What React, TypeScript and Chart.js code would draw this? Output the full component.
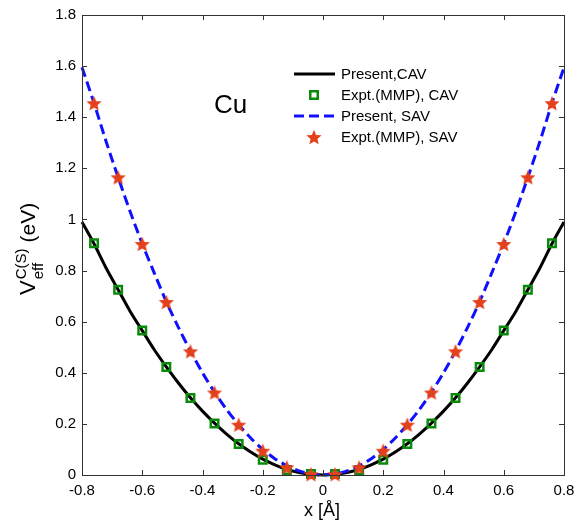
import React, { useEffect, useRef } from 'react';
import { Chart, registerables } from 'chart.js';
Chart.register(...registerables);

const xLine = [-0.8, -0.76, -0.72, -0.68, -0.64, -0.6, -0.56, -0.52, -0.48, -0.44, -0.4, -0.36, -0.32, -0.28, -0.24, -0.2, -0.16, -0.12, -0.08, -0.04, 0,
  0.04, 0.08, 0.12, 0.16, 0.2, 0.24, 0.28, 0.32, 0.36, 0.4, 0.44, 0.48, 0.52, 0.56, 0.6, 0.64, 0.68, 0.72, 0.76, 0.8];
const cavLine = [0.99, 0.905, 0.81, 0.725, 0.64, 0.565, 0.49, 0.423, 0.36, 0.302, 0.25, 0.203, 0.16, 0.122, 0.09, 0.062, 0.04, 0.022, 0.01, 0.003, 0,
  0.003, 0.01, 0.022, 0.04, 0.062, 0.09, 0.122, 0.16, 0.203, 0.25, 0.302, 0.36, 0.423, 0.49, 0.565, 0.64, 0.725, 0.81, 0.905, 0.99];
const savLine = [1.595, 1.455, 1.305, 1.165, 1.03, 0.905, 0.79, 0.678, 0.578, 0.485, 0.4, 0.324, 0.256, 0.197, 0.145, 0.1, 0.064, 0.036, 0.016, 0.004, 0,
  0.004, 0.016, 0.036, 0.064, 0.1, 0.145, 0.197, 0.256, 0.324, 0.4, 0.485, 0.578, 0.678, 0.79, 0.905, 1.03, 1.165, 1.305, 1.455, 1.595];
const xExpt = [-0.76, -0.68, -0.6, -0.52, -0.44, -0.36, -0.28, -0.2, -0.12, -0.04, 0.04, 0.12, 0.2, 0.28, 0.36, 0.44, 0.52, 0.6, 0.68, 0.76];
const cavExpt = [0.907, 0.725, 0.565, 0.423, 0.301, 0.202, 0.121, 0.06, 0.02, 0.004, 0.004, 0.02, 0.06, 0.121, 0.202, 0.301, 0.423, 0.565, 0.725, 0.907];
const savExpt = [1.455, 1.165, 0.904, 0.677, 0.484, 0.323, 0.197, 0.095, 0.03, 0.003, 0.003, 0.03, 0.095, 0.197, 0.323, 0.484, 0.677, 0.904, 1.165, 1.455];
const xTicks = [-0.8, -0.6, -0.4, -0.2, 0, 0.2, 0.4, 0.6, 0.8];
const yTicks = [0, 0.2, 0.4, 0.6, 0.8, 1, 1.2, 1.4, 1.6, 1.8];
const legendLabels = ['Present,CAV', 'Expt.(MMP), CAV', 'Present, SAV', 'Expt.(MMP), SAV'];
const annotationText = 'Cu';

const FONT = 'Arial, "Liberation Sans", sans-serif';
const GREEN = '#0a8a0a';
const RED = '#e4401b';
const BLUE = '#1010ff';

function makeStar(r: number, color: string) {
  const size = Math.ceil(r * 2 + 2);
  const c = document.createElement('canvas');
  c.width = size; c.height = size;
  const ctx = c.getContext('2d')!;
  ctx.translate(size / 2, size / 2 + 0.8);
  ctx.beginPath();
  for (let i = 0; i < 10; i++) {
    const rad = i % 2 === 0 ? r : r * 0.45;
    const a = -Math.PI / 2 + (i * Math.PI) / 5;
    ctx.lineTo(rad * Math.cos(a), rad * Math.sin(a));
  }
  ctx.closePath();
  ctx.fillStyle = color;
  ctx.fill();
  return c;
}

const fmt = (v: number) => String(Math.round(v * 10) / 10);

export default function App() {
  const ref = useRef<HTMLCanvasElement>(null);
  useEffect(() => {
    const star = makeStar(8, RED);
    const decor = {
      id: 'decor',
      afterDraw(chart: any) {
        const { ctx, chartArea: a, scales } = chart;
        const xs = scales.x, ys = scales.y;
        ctx.save();
        // box
        ctx.strokeStyle = '#333';
        ctx.lineWidth = 1;
        ctx.strokeRect(Math.round(a.left) + 0.5, Math.round(a.top) + 0.5, Math.round(a.right - a.left), Math.round(a.bottom - a.top));
        ctx.beginPath();
        for (const v of xTicks) {
          const px = Math.round(xs.getPixelForValue(v)) + 0.5;
          ctx.moveTo(px, a.bottom); ctx.lineTo(px, a.bottom - 5);
          ctx.moveTo(px, a.top); ctx.lineTo(px, a.top + 5);
        }
        for (const v of yTicks) {
          const py = Math.round(ys.getPixelForValue(v)) + 0.5;
          ctx.moveTo(a.left, py); ctx.lineTo(a.left + 5, py);
          ctx.moveTo(a.right, py); ctx.lineTo(a.right - 5, py);
        }
        ctx.stroke();

        // legend
        const rows = [74, 95, 116, 137];
        ctx.font = `15px ${FONT}`;
        ctx.fillStyle = '#000';
        ctx.textBaseline = 'middle';
        ctx.textAlign = 'left';
        legendLabels.forEach((t, i) => ctx.fillText(t, 341, rows[i] + 1));
        ctx.lineWidth = 3;
        ctx.strokeStyle = '#000';
        ctx.beginPath(); ctx.moveTo(294, rows[0]); ctx.lineTo(335, rows[0]); ctx.stroke();
        ctx.strokeStyle = BLUE;
        ctx.setLineDash([10, 5]);
        ctx.beginPath(); ctx.moveTo(294, rows[2]); ctx.lineTo(335, rows[2]); ctx.stroke();
        ctx.setLineDash([]);
        ctx.strokeStyle = GREEN; ctx.lineWidth = 2.5;
        ctx.strokeRect(314 - 3.75, rows[1] - 3.75, 7.5, 7.5);
        ctx.drawImage(star, 314 - star.width / 2, rows[3] - star.height / 2);

        // Cu
        ctx.font = `26px ${FONT}`;
        ctx.fillStyle = '#000';
        ctx.textBaseline = 'alphabetic';
        ctx.fillText(annotationText, 214, 113);

        // x title
        ctx.font = `18px ${FONT}`;
        ctx.textAlign = 'center';
        ctx.fillText('x [Å]', 322, 516);

        // y title
        ctx.save();
        ctx.translate(35, 295);
        ctx.rotate(-Math.PI / 2);
        ctx.textAlign = 'left';
        ctx.font = `22px ${FONT}`;
        ctx.fillText('V', 0, 0);
        let x = ctx.measureText('V').width + 1;
        ctx.font = `15px ${FONT}`;
        ctx.fillText('eff', x, 8);
        ctx.fillText('C(S)', x, -9);
        const w = Math.max(ctx.measureText('eff').width, ctx.measureText('C(S)').width);
        x += w + 6;
        ctx.font = `21px ${FONT}`;
        ctx.fillText('(eV)', x, 0);
        ctx.restore();
        ctx.restore();
      },
    };

    const chart = new Chart(ref.current!, {
      type: 'scatter',
      data: {
        datasets: [
          { label: legendLabels[0], data: xLine.map((x, i) => ({ x, y: cavLine[i] })), showLine: true, borderColor: '#000', borderWidth: 3, pointRadius: 0, tension: 0.3, order: 4 },
          { label: legendLabels[1], data: xExpt.map((x, i) => ({ x, y: cavExpt[i] })), pointStyle: 'rect', pointRadius: 5.3, borderColor: GREEN, backgroundColor: 'rgba(0,0,0,0)', borderWidth: 2.5, order: 3 },
          { label: legendLabels[2], data: xLine.map((x, i) => ({ x, y: savLine[i] })), showLine: true, borderColor: BLUE, borderWidth: 3, borderDash: [10, 5], pointRadius: 0, tension: 0.3, order: 2 },
          { label: legendLabels[3], data: xExpt.map((x, i) => ({ x, y: savExpt[i] })), pointStyle: star as any, pointRadius: 8, order: 1 },
        ],
      },
      options: {
        animation: false,
        responsive: false,
        devicePixelRatio: 1,
        clip: false as any,
        layout: { padding: { left: 0, right: 19, top: 12, bottom: 0 } },
        plugins: { legend: { display: false }, tooltip: { enabled: false } },
        scales: {
          x: {
            type: 'linear', min: -0.8, max: 0.8,
            grid: { display: false, drawTicks: false },
            border: { display: false },
            afterBuildTicks: (s: any) => { s.ticks = xTicks.map(v => ({ value: v })); },
            afterFit: (s: any) => { s.height = 49; },
            ticks: { color: '#000', font: { family: FONT, size: 15 }, padding: 7, maxRotation: 0, autoSkip: false, callback: (v: any) => fmt(v) },
          },
          y: {
            type: 'linear', min: 0, max: 1.8,
            grid: { display: false, drawTicks: false },
            border: { display: false },
            afterBuildTicks: (s: any) => { s.ticks = yTicks.map(v => ({ value: v })); },
            afterFit: (s: any) => { s.width = 82; },
            ticks: { color: '#000', font: { family: FONT, size: 15 }, padding: 6, autoSkip: false, callback: (v: any) => fmt(v) },
          },
        },
      },
      plugins: [decor],
    } as any);
    return () => chart.destroy();
  }, []);
  return (
    <div style={{ position: 'absolute', left: 0, top: 0, width: 583, height: 524, background: '#fff' }}>
      <canvas ref={ref} width={583} height={524} />
    </div>
  );
}
